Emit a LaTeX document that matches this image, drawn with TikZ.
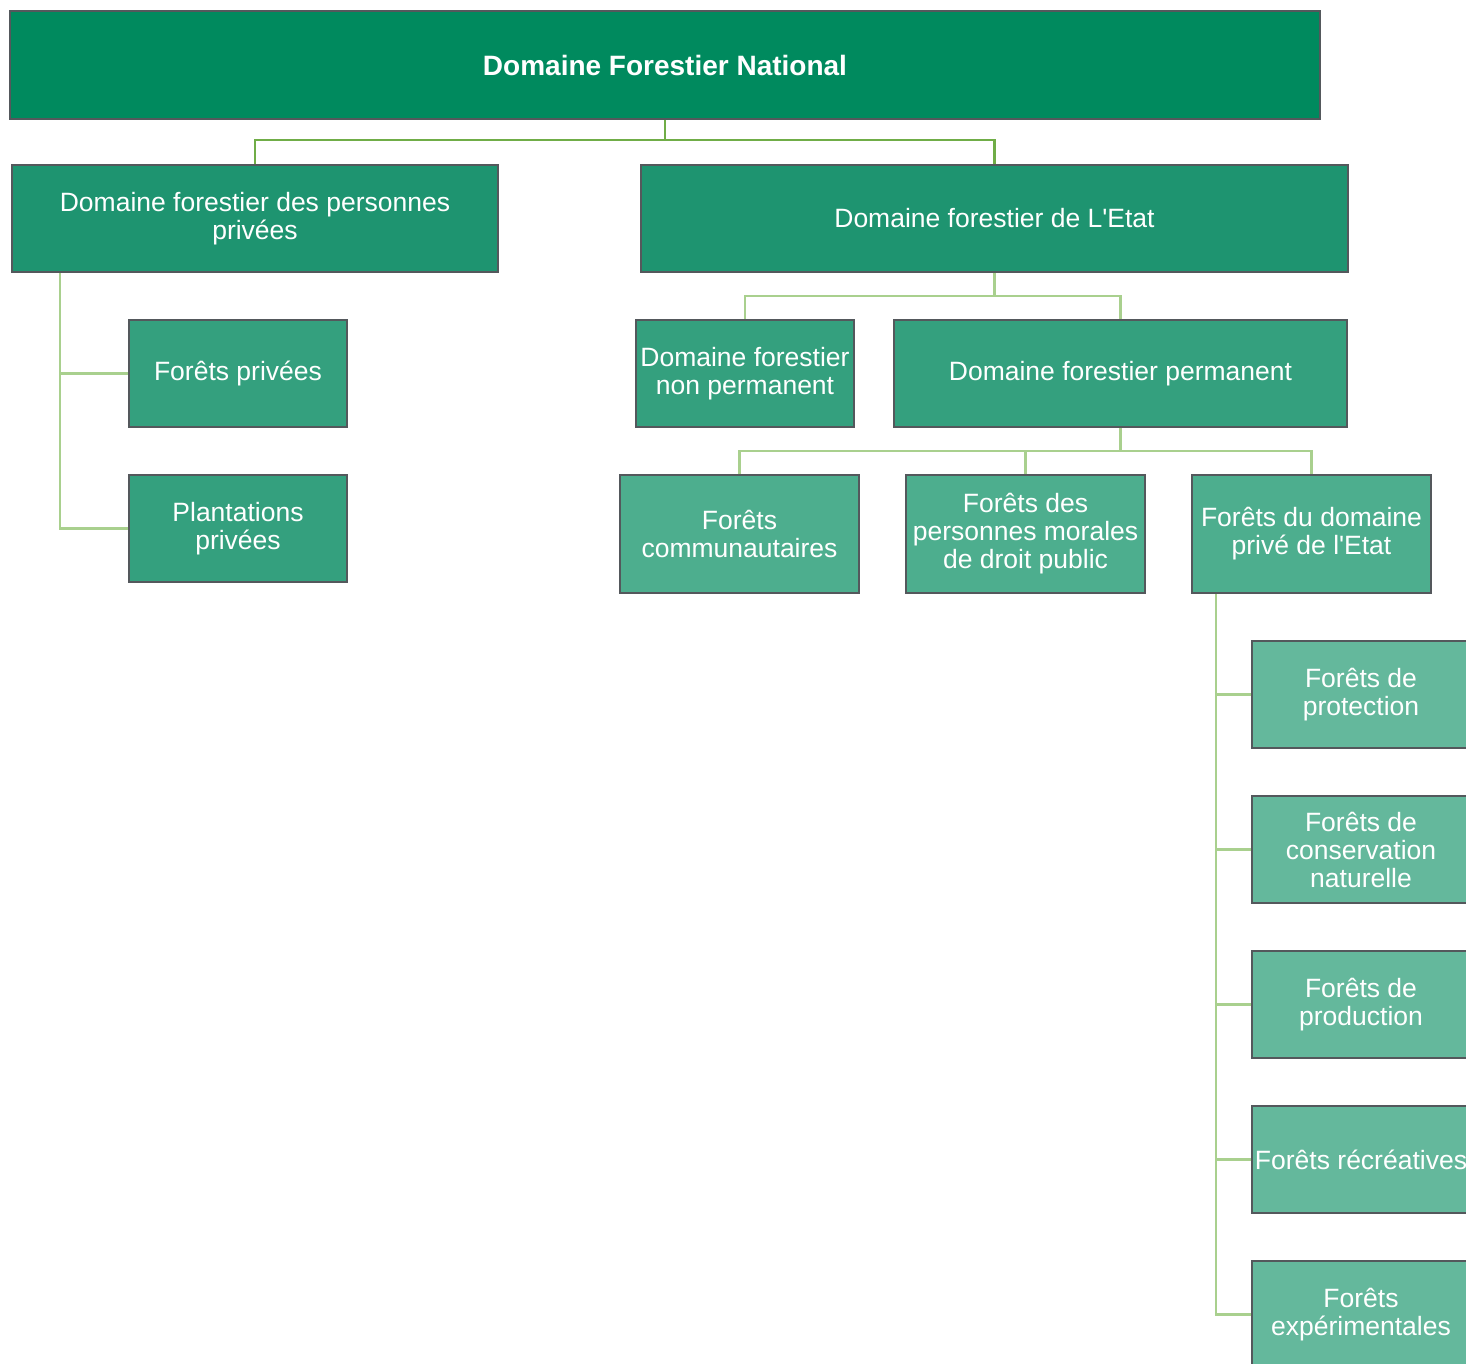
\documentclass[tikz,border=0pt]{standalone}
\usepackage{fontspec}
\setmainfont{Liberation Sans}
\usepackage{tikz}
\definecolor{rootgreen}{RGB}{0, 138, 94}
\definecolor{lvlone}{RGB}{30, 148, 112}
\definecolor{lvltwo}{RGB}{52, 160, 126}
\definecolor{lvlthree}{RGB}{77, 174, 142}
\definecolor{lvlfour}{RGB}{100, 184, 156}
\definecolor{frame}{RGB}{84, 88, 92}
\definecolor{linkdark}{RGB}{112, 173, 71}
\definecolor{linklight}{RGB}{169, 208, 142}

\begin{document}
\begin{tikzpicture}[x=1pt, y=-1pt,
    box/.style={draw=frame, line width=2pt, text=white, inner sep=0pt, align=center,
        font=\fontsize{26.5}{28}\selectfont},
    rootlink/.style={draw=linkdark, line width=2.5pt},
    sublink/.style={draw=linklight, line width=2.5pt}]
    \useasboundingbox (0,0) rectangle (1466,1364);
    \clip (0,0) rectangle (1466,1364);

    % Top level
    \node[box, fill=rootgreen, minimum width=1310pt, minimum height=108pt,
        font=\fontsize{28}{30}\selectfont\bfseries] (root) at (665,65) {Domaine Forestier National};

    % Second level
    \node[box, fill=lvlone, minimum width=486pt, minimum height=107pt] (dfpp) at (255,218.5)
        {Domaine forestier des personnes\\privées};
    \node[box, fill=lvlone, minimum width=707pt, minimum height=107pt] (dfe) at (994.5,218.5)
        {Domaine forestier de L\textquotesingle Etat};

    % Private branch
    \node[box, fill=lvltwo, minimum width=218pt, minimum height=107pt] (fp) at (238,373.5) {Forêts privées};
    \node[box, fill=lvltwo, minimum width=218pt, minimum height=107pt] (pp) at (238,528.5) {Plantations\\privées};

    % State branch
    \node[box, fill=lvltwo, minimum width=218pt, minimum height=107pt] (dfnp) at (745,373.5)
        {Domaine forestier\\non permanent};
    \node[box, fill=lvltwo, minimum width=453pt, minimum height=107pt] (dfperm) at (1120.5,373.5)
        {Domaine forestier permanent};

    \node[box, fill=lvlthree, minimum width=239pt, minimum height=118pt] (fc) at (739.5,534)
        {Forêts\\communautaires};
    \node[box, fill=lvlthree, minimum width=239pt, minimum height=118pt] (fpm) at (1025.5,534)
        {Forêts des\\personnes morales\\de droit public};
    \node[box, fill=lvlthree, minimum width=239pt, minimum height=118pt] (fde) at (1311.5,534)
        {Forêts du domaine\\privé de l\textquotesingle Etat};

    % Private state forests
    \node[box, fill=lvlfour, minimum width=218pt, minimum height=107pt] (fprot) at (1361,694.5) {Forêts de\\protection};
    \node[box, fill=lvlfour, minimum width=218pt, minimum height=107pt] (fcons) at (1361,849.5) {Forêts de\\conservation\\naturelle};
    \node[box, fill=lvlfour, minimum width=218pt, minimum height=107pt] (fprod) at (1361,1004.5) {Forêts de\\production};
    \node[box, fill=lvlfour, minimum width=218pt, minimum height=107pt] (frec) at (1361,1159.5) {Forêts récréatives};
    \node[box, fill=lvlfour, minimum width=218pt, minimum height=107pt] (fexp) at (1361,1314.5) {Forêts\\expérimentales};

    % Links
    \draw[rootlink] (root.south) -- ++(0,20) -| (dfpp.north);
    \draw[rootlink] (root.south) -- ++(0,20) -| (dfe.north);

    \draw[sublink] ([xshift=49pt]dfpp.south west) |- (fp.west);
    \draw[sublink] ([xshift=49pt]dfpp.south west) |- (pp.west);

    \draw[sublink] (dfe.south) -- ++(0,23) -| (dfnp.north);
    \draw[sublink] (dfe.south) -- ++(0,23) -| (dfperm.north);

    \draw[sublink] (dfperm.south) -- ++(0,23) -| (fc.north);
    \draw[sublink] (dfperm.south) -- ++(0,23) -| (fpm.north);
    \draw[sublink] (dfperm.south) -- ++(0,23) -| (fde.north);

    \draw[sublink] ([xshift=25pt]fde.south west) |- (fprot.west);
    \draw[sublink] ([xshift=25pt]fde.south west) |- (fcons.west);
    \draw[sublink] ([xshift=25pt]fde.south west) |- (fprod.west);
    \draw[sublink] ([xshift=25pt]fde.south west) |- (frec.west);
    \draw[sublink] ([xshift=25pt]fde.south west) |- (fexp.west);
\end{tikzpicture}
\end{document}
